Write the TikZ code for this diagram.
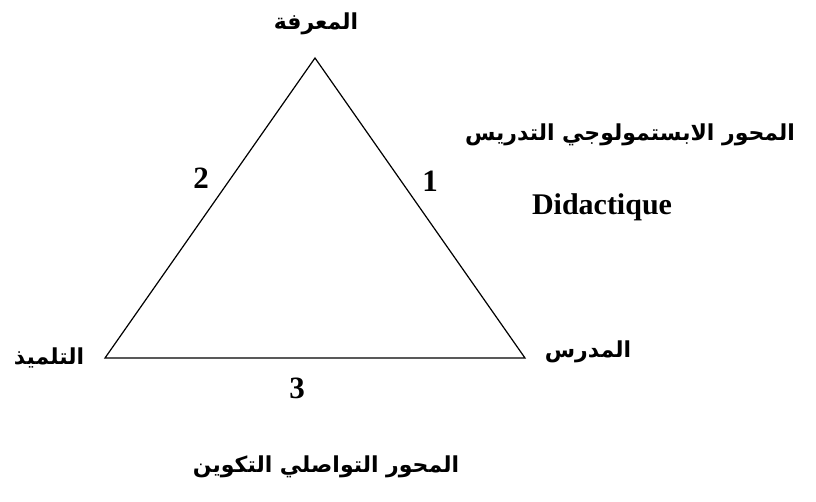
\documentclass[tikz,border=0pt]{standalone}
\usepackage{fontspec}
\setmainfont{Liberation Serif}
\newfontfamily\arabicfont[Script=Arabic]{DejaVu Sans}
\TeXXeTstate=1
\usetikzlibrary{positioning}

\begin{document}
\begin{tikzpicture}[
  x=1pt, y=-1pt,
  ar/.style={font=\arabicfont\bfseries\fontsize{22}{26}\selectfont, inner sep=0pt},
  num/.style={font=\bfseries\fontsize{31}{35}\selectfont, inner sep=0pt},
  lat/.style={font=\bfseries\fontsize{30}{34}\selectfont, inner sep=0pt}
]
\useasboundingbox (0,0) rectangle (816,501);

% vertices of the triangle
\coordinate (knowledge) at (315,58);
\coordinate (teacher) at (525,358);
\coordinate (pupil) at (105,358);

\draw[line width=1.2pt, line join=miter] (knowledge) -- (teacher) -- (pupil) -- cycle;

\node[ar] (knowlbl) at (316,24) {\beginR المعرفة\endR};
\node[ar] (teachlbl) at (588,352) {\beginR المدرس\endR};
\node[ar] (pupillbl) at (49,358) {\beginR التلميذ\endR};

\node[num] (one) at (430,181) {1};
\node[num] (two) at (201,178) {2};
\node[num] (three) at (297,388) {3};

\node[ar] (epist) at (630,135) {\beginR المحور الابستمولوجي التدريس\endR};
\node[lat] (didac) at (602,207) {Didactique};
\node[ar] (commu) at (326,467) {\beginR المحور التواصلي التكوين\endR};
\end{tikzpicture}
\end{document}
